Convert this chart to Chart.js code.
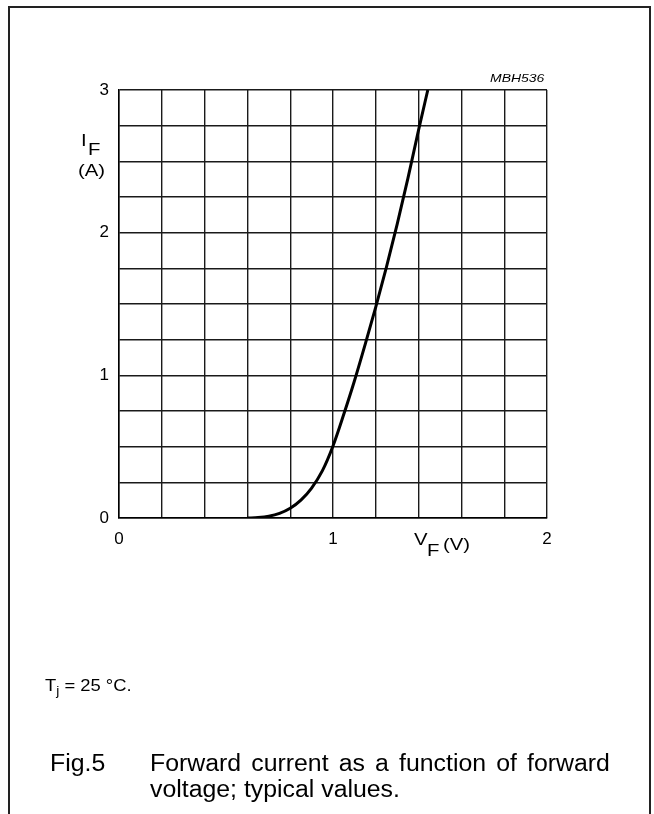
<!DOCTYPE html>
<html>
<head>
<meta charset="utf-8">
<script src="https://cdn.jsdelivr.net/npm/chart.js@4"></script>
<style>
  html, body { margin: 0; padding: 0; background: #fff; width: 654px; height: 814px; overflow: hidden; }
  #frame { position: absolute; left: 8px; top: 6px; width: 643px; height: 830px; border: 2px solid #222; box-sizing: border-box; }
  #wrap { position: absolute; left: 0; top: 0; width: 654px; height: 814px; }
  .t { position: absolute; font-family: "Liberation Sans", Arial, sans-serif; color: #000; line-height: 1; white-space: nowrap; transform-origin: left top; transform: scaleX(1.27); }
</style>
</head>
<body>
<div id="frame"></div>
<div id="wrap"><canvas id="c" width="654" height="814"></canvas></div>

<div class="t" style="left:490px; top:73px; font-size:11px; font-style:italic;">MBH536</div>

<div class="t" style="left:81px; top:133px; font-size:16px;">I</div>
<div class="t" style="left:88px; top:142px; font-size:16px;">F</div>
<div class="t" style="left:78px; top:163px; font-size:16px;">(A)</div>

<div class="t" style="left:414px; top:532px; font-size:16px;">V</div>
<div class="t" style="left:427px; top:543px; font-size:16px;">F</div>
<div class="t" style="left:443px; top:537px; font-size:16px;">(V)</div>

<div class="t" style="left:45px; top:678px; font-size:16px; transform:scaleX(1.15);">T<span style="font-size:12px; position:relative; top:4px;">j</span> = 25 °C.</div>

<div class="t" style="left:50px; top:752px; font-size:23px; transform:scaleX(1.08);">Fig.5</div>
<div class="t" style="left:150px; top:752px; font-size:23px; transform:scaleX(1.08); word-spacing:3px;">Forward current as a function of forward</div>
<div class="t" style="left:150px; top:778px; font-size:23px; transform:scaleX(1.08);">voltage; typical values.</div>

<script>
// Forward voltage V_F (V) and forward current I_F (A)
const forwardVoltage = [0.60, 0.65, 0.70, 0.75, 0.80, 0.85, 0.90, 0.95, 1.00, 1.05, 1.10, 1.15, 1.20, 1.25, 1.30, 1.35, 1.40, 1.443];
const forwardCurrent = [0.000, 0.003, 0.012, 0.032, 0.068, 0.125, 0.210, 0.330, 0.505, 0.725, 0.96, 1.215, 1.48, 1.76, 2.06, 2.38, 2.72, 3.00];

// Axis ranges and labelled ticks
const xRange = [0, 2];
const yRange = [0, 3];
const xGridStep = 0.2;
const yGridStep = 0.25;
const xTickLabels = [0, 1, 2];
const yTickLabels = [0, 1, 2, 3];

const points = forwardVoltage.map((v, i) => ({ x: v, y: forwardCurrent[i] }));
const isLabelled = (v, list) => list.some(t => Math.abs(t - v) < 1e-6);

Chart.defaults.font.family = '"Liberation Sans", Arial, sans-serif';
Chart.defaults.color = '#000';

new Chart(document.getElementById('c'), {
  type: 'line',
  data: {
    datasets: [{
      data: points,
      borderColor: '#000',
      borderWidth: 3,
      pointRadius: 0,
      fill: false,
      cubicInterpolationMode: 'monotone'
    }]
  },
  options: {
    responsive: false,
    animation: false,
    devicePixelRatio: 1,
    layout: { padding: { top: 90, right: 107, bottom: 256, left: 0 } },
    plugins: { legend: { display: false }, tooltip: { enabled: false } },
    scales: {
      x: {
        type: 'linear',
        min: xRange[0], max: xRange[1],
        afterFit(s) { s.height = 40; },
        afterBuildTicks(s) {
          const t = [];
          for (let k = 0; k <= Math.round((xRange[1] - xRange[0]) / xGridStep); k++) t.push({ value: +(xRange[0] + k * xGridStep).toFixed(4) });
          s.ticks = t;
        },
        ticks: {
          padding: 11,
          maxRotation: 0,
          autoSkip: false,
          font: { size: 17 },
          callback: v => isLabelled(v, xTickLabels) ? String(Math.round(v)) : ''
        },
        grid: { color: '#1a1a1a', lineWidth: 1.4, drawTicks: false },
        border: { display: true, color: '#000', width: 1.5 }
      },
      y: {
        type: 'linear',
        min: yRange[0], max: yRange[1],
        afterFit(s) { s.width = 119; },
        afterBuildTicks(s) {
          const t = [];
          for (let k = 0; k <= Math.round((yRange[1] - yRange[0]) / yGridStep); k++) t.push({ value: +(yRange[0] + k * yGridStep).toFixed(4) });
          s.ticks = t;
        },
        ticks: {
          padding: 10,
          autoSkip: false,
          font: { size: 17 },
          callback: v => isLabelled(v, yTickLabels) ? String(Math.round(v)) : ''
        },
        grid: { color: '#1a1a1a', lineWidth: 1.4, drawTicks: false },
        border: { display: true, color: '#000', width: 1.5 }
      }
    }
  }
});
</script>
</body>
</html>
